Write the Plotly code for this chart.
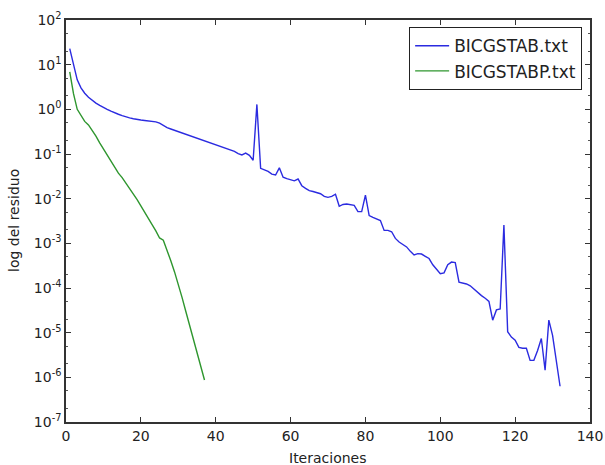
import plotly.graph_objects as go

# Iterations
bicgstab_iter = list(range(1, 133))
bicgstabp_iter = list(range(1, 38))

# Residual readings (log10 of residual)
bicgstab_log10 = [
    1.36, 0.98, 0.66, 0.48, 0.36, 0.27, 0.20, 0.14, 0.09, 0.04,
    0.00, -0.04, -0.08, -0.11, -0.14, -0.17, -0.19, -0.21, -0.23, -0.24,
    -0.25, -0.26, -0.27, -0.28, -0.31, -0.36, -0.41, -0.44, -0.47, -0.50,
    -0.53, -0.56, -0.59, -0.62, -0.65, -0.68, -0.71, -0.73, -0.76, -0.79,
    -0.82, -0.85, -0.88, -0.91, -0.94, -0.99, -1.02, -0.98, -1.03, -1.14,
    0.11, -1.32, -1.36, -1.39, -1.45, -1.47, -1.31, -1.52, -1.55, -1.58,
    -1.60, -1.56, -1.71, -1.77, -1.82, -1.84, -1.86, -1.89, -1.95, -1.97,
    -1.95, -1.90, -2.17, -2.13, -2.12, -2.13, -2.15, -2.29, -2.29, -1.92,
    -2.38, -2.42, -2.45, -2.49, -2.71, -2.71, -2.74, -2.89, -2.97, -3.03,
    -3.08, -3.18, -3.26, -3.23, -3.24, -3.29, -3.34, -3.48, -3.57, -3.68,
    -3.66, -3.48, -3.42, -3.43, -3.87, -3.89, -3.91, -3.95, -4.03, -4.10,
    -4.17, -4.23, -4.30, -4.72, -4.49, -4.47, -2.59, -4.98, -5.10, -5.17,
    -5.33, -5.35, -5.35, -5.62, -5.62, -5.40, -5.13, -5.84, -4.72, -5.06,
    -5.65, -6.20,
]
bicgstabp_log10 = [
    0.84, 0.35, 0.00, -0.15, -0.27, -0.35, -0.47, -0.60, -0.75, -0.89,
    -1.03, -1.17, -1.31, -1.43, -1.53, -1.65, -1.76, -1.88, -2.02, -2.16,
    -2.31, -2.45, -2.58, -2.72, -2.88, -2.93, -3.14, -3.39, -3.64, -3.91,
    -4.21, -4.52, -4.83, -5.13, -5.45, -5.77, -6.06,
]

bicgstab_res = [10 ** v for v in bicgstab_log10]
bicgstabp_res = [10 ** v for v in bicgstabp_log10]

series_names = ["BICGSTAB.txt", "BICGSTABP.txt"]
x_ticks = [0, 20, 40, 60, 80, 100, 120, 140]
y_exps = [2, 1, 0, -1, -2, -3, -4, -5, -6, -7]
y_tickvals = [10.0 ** e for e in y_exps]
y_ticktext = ["10<sup>%d</sup>" % e for e in y_exps]
x_title = "Iteraciones"
y_title = "log del residuo"

FONT = "DejaVu Sans"

fig = go.Figure()
fig.add_trace(go.Scatter(x=bicgstab_iter, y=bicgstab_res, mode="lines",
                         name=series_names[0],
                         line=dict(color="#2b2be0", width=1.4)))
fig.add_trace(go.Scatter(x=bicgstabp_iter, y=bicgstabp_res, mode="lines",
                         name=series_names[1],
                         line=dict(color="#2e962e", width=1.4)))

fig.update_layout(
    width=605, height=465,
    margin=dict(l=66, r=15, t=20, b=43, autoexpand=False),
    paper_bgcolor="white", plot_bgcolor="white",
    font=dict(family=FONT, size=14, color="#222"),
    showlegend=True,
    legend=dict(x=0.985, y=0.982, xanchor="right", yanchor="top",
                bordercolor="#222", borderwidth=1, bgcolor="white",
                font=dict(family=FONT, size=17, color="#222"),
                tracegroupgap=2, itemwidth=34),
    annotations=[
        dict(text=x_title, x=0.5, y=0, xref="paper", yref="paper",
             xanchor="center", yanchor="top", yshift=-26, showarrow=False,
             font=dict(family=FONT, size=14, color="#222")),
        dict(text=y_title, x=0, y=0.5, xref="paper", yref="paper",
             xanchor="right", yanchor="middle", xshift=-42, textangle=-90,
             showarrow=False, font=dict(family=FONT, size=14, color="#222")),
    ],
)
fig.update_xaxes(
    range=[0, 140], tickvals=x_ticks, ticks="inside", ticklen=5,
    tickcolor="#333", showline=True, linecolor="#333", linewidth=1.5,
    mirror="allticks", showgrid=False, zeroline=False, automargin=False,
    tickfont=dict(family=FONT, size=14),
)
fig.update_yaxes(
    type="log", range=[-7, 2], tickvals=y_tickvals, ticktext=y_ticktext,
    ticks="inside", ticklen=5, tickcolor="#333", showline=True,
    linecolor="#333", linewidth=1.5, mirror="allticks", showgrid=False,
    zeroline=False, automargin=False,
    minor=dict(ticks="inside", ticklen=2.5, tickcolor="#555", showgrid=False),
    tickfont=dict(family=FONT, size=14),
)

fig.write_html("out.html")
